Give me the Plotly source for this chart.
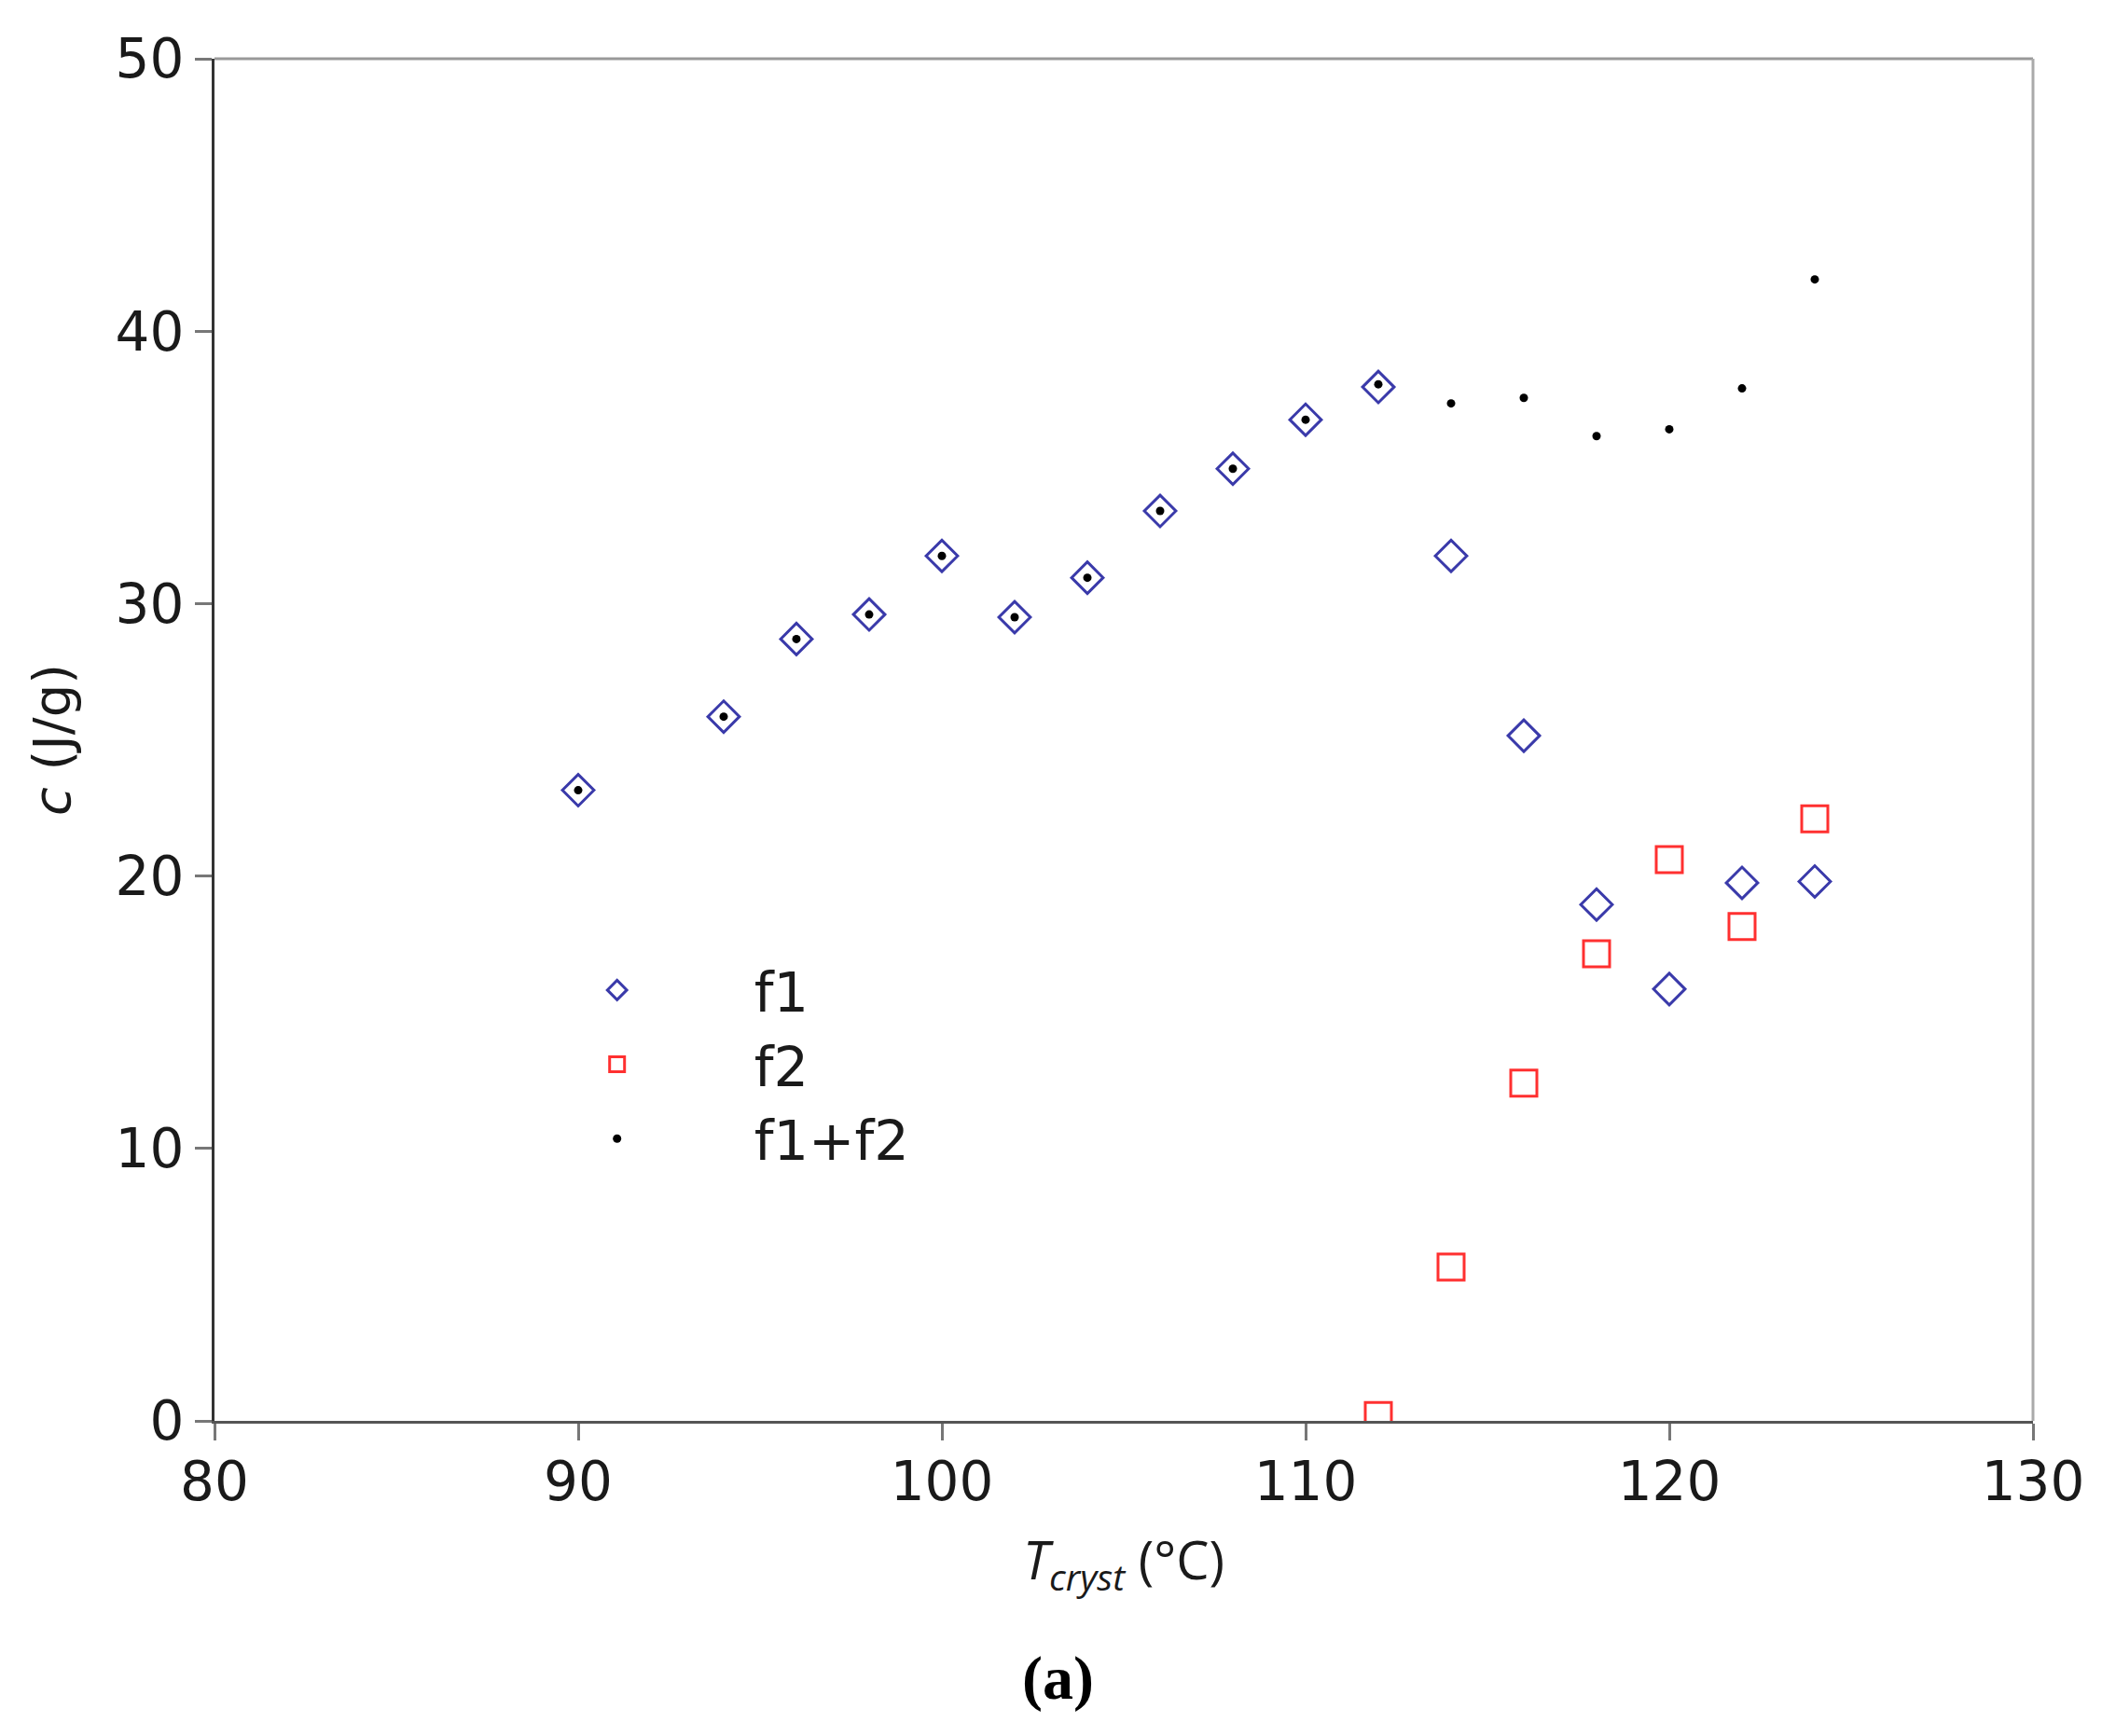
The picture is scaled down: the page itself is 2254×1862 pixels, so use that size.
import plotly.graph_objects as go

t_f1 = [90, 94, 96, 98, 100, 102, 104, 106, 108, 110, 112, 114, 116, 118, 120, 122, 124]
f1 = [23.15, 25.85, 28.7, 29.6, 31.75, 29.5, 30.95, 33.4, 34.95, 36.75, 37.95, 31.75, 25.15, 18.95, 15.85, 19.75, 19.8]

t_f2 = [112, 114, 116, 118, 120, 122, 124]
f2 = [0.2, 5.65, 12.4, 17.15, 20.6, 18.15, 22.1]

t_sum = [90, 94, 96, 98, 100, 102, 104, 106, 108, 110, 112, 114, 116, 118, 120, 122, 124]
f_sum = [23.15, 25.85, 28.7, 29.6, 31.75, 29.5, 30.95, 33.4, 34.95, 36.75, 38.05, 37.35, 37.55, 36.15, 36.4, 37.9, 41.9]

x_ticks = [80, 90, 100, 110, 120, 130]
y_ticks = [0, 10, 20, 30, 40, 50]

FONT = "DejaVu Sans"

fig = go.Figure()
fig.add_trace(go.Scatter(
    x=t_f1, y=f1, mode="markers", name="f1",
    marker=dict(symbol="diamond-open", size=26, color="#3a3aaa", line=dict(width=3, color="#3a3aaa")),
))
fig.add_trace(go.Scatter(
    x=t_f2, y=f2, mode="markers", name="f2",
    marker=dict(symbol="square-open", size=28, color="#ff3030", line=dict(width=3, color="#ff3030")),
))
fig.add_trace(go.Scatter(
    x=t_sum, y=f_sum, mode="markers", name="f1+f2",
    marker=dict(symbol="circle", size=9, color="#000000"),
))

fig.update_layout(
    width=2254, height=1862,
    margin=dict(l=222, r=82, t=55, b=346),
    plot_bgcolor="white", paper_bgcolor="white",
    font=dict(family=FONT, size=58, color="#1a1a1a"),
    showlegend=True,
    legend=dict(
        x=0.146, y=0.347, xanchor="left", yanchor="top",
        bgcolor="rgba(0,0,0,0)", itemwidth=284,
        font=dict(family=FONT, size=59, color="#1a1a1a"),
        tracegroupgap=0,
    ),
    xaxis=dict(
        range=[80, 130], tickvals=x_ticks, ticktext=[str(v) for v in x_ticks],
        showgrid=False, zeroline=False,
        showline=True, linecolor="#555555", linewidth=3,
        ticks="outside", ticklen=18, tickwidth=3, tickcolor="#777777",
        ticklabelstandoff=-6,
        tickfont=dict(family=FONT, size=58, color="#1a1a1a"),
        title=dict(text="<i>T</i><sub><i>cryst</i></sub> (°C)", font=dict(family="Open Sans", size=56, color="#1a1a1a"), standoff=34),
    ),
    yaxis=dict(
        range=[0, 50], tickvals=y_ticks, ticktext=[str(v) for v in y_ticks],
        showgrid=False, zeroline=False,
        showline=True, linecolor="#333333", linewidth=3,
        ticks="outside", ticklen=18, tickwidth=3, tickcolor="#777777",
        tickfont=dict(family=FONT, size=58, color="#1a1a1a"),
        title=dict(text="<i>c</i> (J/g)", font=dict(family=FONT, size=56, color="#1a1a1a"), standoff=30),
    ),
    shapes=[
        dict(type="line", xref="paper", yref="paper", x0=0, x1=1, y0=1, y1=1, line=dict(color="#999999", width=3)),
        dict(type="line", xref="paper", yref="paper", x0=1, x1=1, y0=0, y1=1, line=dict(color="#aaaaaa", width=3)),
    ],
    annotations=[
        dict(text="<b>(a)</b>", xref="paper", yref="paper", x=0.464, y=-0.189,
             xanchor="center", yanchor="middle", showarrow=False,
             font=dict(family="Liberation Serif", size=66, color="#000000")),
    ],
)

fig.write_html("out.html")
